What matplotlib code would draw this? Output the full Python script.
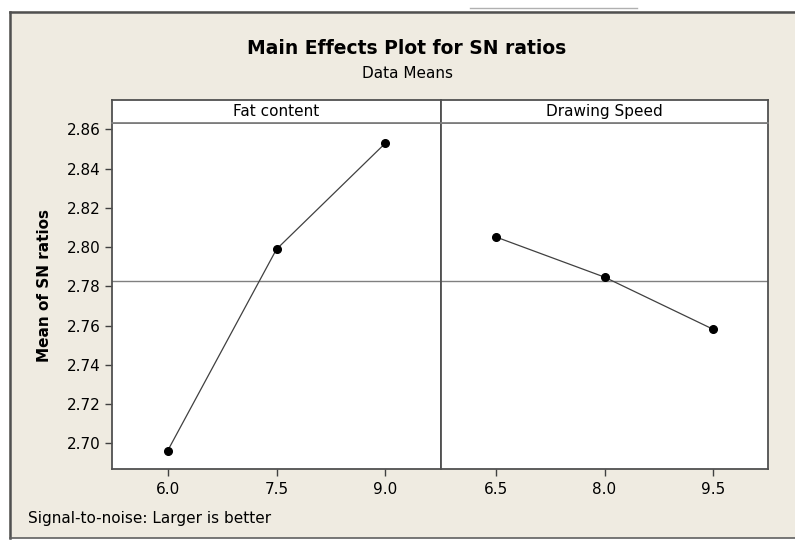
import numpy as np
import matplotlib
matplotlib.use("Agg")
import matplotlib.pyplot as plt
from matplotlib.lines import Line2D
from matplotlib.patches import Rectangle

# Data
fat_levels = ["6.0", "7.5", "9.0"]
fat_sn = [2.6961, 2.7989, 2.8530]
speed_levels = ["6.5", "8.0", "9.5"]
speed_sn = [2.8051, 2.7847, 2.7582]
y_ticks = [2.70, 2.72, 2.74, 2.76, 2.78, 2.80, 2.82, 2.84, 2.86]

grand_mean = np.mean(fat_sn)

W, H = 795, 540
BG = "#EFEBE1"
plt.rcParams["font.family"] = ["DejaVu Sans"]

fig = plt.figure(figsize=(W / 100, H / 100), dpi=100, facecolor=BG)


def fx(px):
    return px / W


def fy(py):
    return 1 - py / H


# white margins outside the window frame
fig.patches.append(Rectangle((0, fy(11)), 1, 1 - fy(11), transform=fig.transFigure,
                             facecolor="white", edgecolor="none", zorder=0))
fig.patches.append(Rectangle((0, 0), fx(9), 1, transform=fig.transFigure,
                             facecolor="white", edgecolor="none", zorder=0))
fig.patches.append(Rectangle((0, 0), 1, fy(538), transform=fig.transFigure,
                             facecolor="white", edgecolor="none", zorder=0))
fig.lines.append(Line2D([fx(470), fx(637)], [fy(8), fy(8)], transform=fig.transFigure,
                        color="#B0B0B0", lw=1))
fig.lines.append(Line2D([fx(10), 1], [fy(12), fy(12)], transform=fig.transFigure,
                        color="#505050", lw=1.8))
fig.lines.append(Line2D([fx(10), fx(10)], [fy(12), fy(538)], transform=fig.transFigure,
                        color="#505050", lw=1.8))
fig.lines.append(Line2D([fx(10), 1], [fy(538), fy(538)], transform=fig.transFigure,
                        color="#606060", lw=1.2))

top_px, strip_px, bot_px = 100, 122.7, 469
ylim = (2.6869, 2.8634)

panels = [
    (112, 441, "Fat content", fat_levels, fat_sn),
    (441, 768, "Drawing Speed", speed_levels, speed_sn),
]

for i, (x0, x1, name, levels, vals) in enumerate(panels):
    ax = fig.add_axes([fx(x0), fy(bot_px), fx(x1 - x0), fy(strip_px) - fy(bot_px)])
    ax.set_facecolor("white")
    pos = np.arange(len(levels))
    ax.axhline(grand_mean, color="#808080", lw=1, zorder=1)
    ax.plot(pos, vals, color="#404040", lw=0.9, zorder=2)
    ax.plot(pos, vals, "o", color="black", ms=5.5, zorder=3)
    ax.set_xlim(-0.51, 2.51)
    ax.set_ylim(*ylim)
    ax.set_xticks(pos)
    ax.set_xticklabels(levels, fontsize=11)
    ax.tick_params(axis="x", length=5, width=1, color="#404040", pad=4)
    if i == 0:
        ax.set_yticks(y_ticks)
        ax.set_yticklabels([f"{t:.2f}" for t in y_ticks], fontsize=11)
        ax.tick_params(axis="y", length=5, width=1, color="#404040", pad=3)
    else:
        ax.set_yticks([])
    for sp in ax.spines.values():
        sp.set_color("#505050")
        sp.set_linewidth(1.3)

    # strip header
    sx = fig.add_axes([fx(x0), fy(strip_px), fx(x1 - x0), fy(top_px) - fy(strip_px)])
    sx.set_facecolor("white")
    sx.set_xticks([])
    sx.set_yticks([])
    for sp in sx.spines.values():
        sp.set_color("#505050")
        sp.set_linewidth(1.3)
    sx.spines["bottom"].set_color("#808080")
    sx.text(0.5, 0.5, name, ha="center", va="center", fontsize=11, transform=sx.transAxes)

fig.text(fx(407), fy(48), "Main Effects Plot for SN ratios", ha="center", va="center",
         fontsize=13.5, fontweight="bold")
fig.text(fx(407), fy(73), "Data Means", ha="center", va="center", fontsize=11)
fig.text(fx(45), fy(285), "Mean of SN ratios", ha="center", va="center", rotation=90,
         fontsize=11, fontweight="bold")
fig.text(fx(28), fy(519), "Signal-to-noise: Larger is better", ha="left", va="center",
         fontsize=11)

fig.savefig("out.png", dpi=100, facecolor=BG)
